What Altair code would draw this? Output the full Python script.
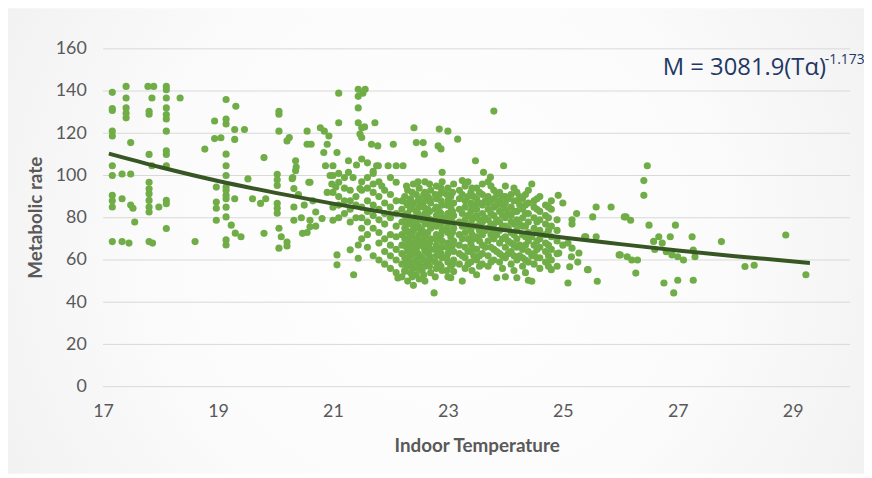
import altair as alt
import pandas as pd

# ---------------- data ----------------
cool_points = [
    (17.16, 139.4), (17.16, 131.7), (17.16, 130.8), (17.16, 121.0), (17.16, 118.7), (17.16, 104.6),
    (17.16, 100.0), (17.16, 90.6), (17.16, 88.0), (17.16, 85.1), (17.16, 68.7),
    (17.40, 142.2), (17.40, 136.7), (17.40, 132.0), (17.40, 129.5), (17.40, 127.3), (17.48, 115.6),
    (17.33, 100.7), (17.48, 100.7), (17.33, 89.0), (17.48, 86.0), (17.52, 84.5), (17.55, 78.0),
    (17.33, 68.7), (17.45, 68.0),
    (17.78, 142.2), (17.88, 142.2), (17.85, 136.7), (17.80, 130.4), (17.80, 129.0), (17.80, 110.0),
    (17.85, 104.6), (17.80, 96.8), (17.80, 93.7), (17.80, 91.4), (17.80, 88.2), (17.80, 85.1),
    (17.80, 82.7), (17.80, 68.7), (17.86, 68.0), (17.97, 85.1),
    (18.10, 142.2), (18.10, 140.6), (18.10, 136.7), (18.10, 132.0), (18.10, 128.9), (18.10, 126.8),
    (18.10, 121.0), (18.10, 111.7), (18.10, 110.0), (18.10, 104.6), (18.10, 88.2), (18.10, 86.6),
    (18.10, 74.9), (18.34, 136.7), (18.60, 68.7),
    (18.77, 112.5), (18.94, 117.5), (19.05, 117.9), (18.94, 125.8), (18.97, 94.5), (18.97, 87.4),
    (18.97, 84.5), (18.97, 78.8),
    (19.14, 136.0), (19.14, 126.7), (19.14, 124.4), (19.14, 110.1), (19.14, 104.6), (19.14, 100.0),
    (19.14, 94.5), (19.14, 93.0), (19.14, 90.6), (19.14, 89.0), (19.14, 85.0), (19.14, 80.4),
    (19.14, 69.5), (19.14, 67.1),
    (19.31, 132.8), (19.29, 121.8), (19.46, 121.8), (19.29, 117.1), (19.23, 76.5), (19.30, 72.7),
    (19.40, 71.0), (19.29, 89.0), (19.52, 98.4), (19.60, 89.0), (19.74, 86.8), (19.80, 108.5),
    (19.80, 72.6),
]

mid_points = [
    (19.83, 89.0), (20.06, 130.4), (20.06, 129.0), (20.06, 121.0), (20.03, 100.6), (20.03, 98.0),
    (20.03, 95.3), (20.03, 86.8), (20.03, 84.5), (20.03, 82.1), (20.06, 75.0), (20.10, 71.0),
    (20.20, 68.5), (20.06, 65.6), (20.20, 66.6), (20.20, 116.4), (20.24, 118.0), (20.35, 107.0),
    (20.35, 102.3), (20.29, 98.5), (20.32, 93.8), (20.32, 85.1), (20.32, 78.8), (20.47, 72.6),
    (20.55, 121.0), (20.55, 114.8), (20.62, 114.8), (20.58, 96.8), (20.60, 78.8), (20.60, 75.7),
    (20.70, 82.7), (20.78, 122.6), (20.85, 121.0), (20.93, 118.7), (20.90, 114.8), (20.84, 110.9),
    (20.81, 79.6), (20.87, 104.6), (20.95, 100.0), (20.90, 92.0), (20.40, 91.0), (20.50, 86.0),
    (20.45, 80.0), (20.65, 88.0), (20.70, 76.0), (20.55, 73.0), (20.30, 99.0), (20.60, 96.8),
    (20.36, 104.0),
    (21.07, 110.9), (21.10, 139.0), (21.10, 125.0), (21.07, 62.4), (21.07, 57.7), (21.27, 107.0),
    (21.27, 101.5), (21.36, 53.0), (21.44, 140.8), (21.44, 137.5), (21.56, 140.8), (21.52, 139.0),
    (21.44, 132.0), (21.44, 125.0), (21.55, 123.0), (21.50, 122.6), (21.47, 119.6), (21.50, 118.0),
    (21.73, 125.0), (21.50, 107.8), (21.41, 105.0), (21.60, 106.0), (21.47, 93.8), (21.44, 67.1),
    (21.44, 60.8), (21.67, 114.8), (21.78, 114.0), (21.76, 104.6), (21.79, 104.6), (22.05, 114.8),
    (21.96, 104.6), (22.10, 104.6), (22.22, 104.6), (22.13, 51.5), (22.25, 54.6), (22.10, 96.8),
    (20.98, 96.0), (21.05, 94.5), (21.35, 99.0), (21.70, 102.0), (21.85, 95.0),
]

upper_points = [
    (22.41, 122.6), (22.45, 115.6), (22.57, 115.6), (22.59, 110.1), (22.85, 122.0), (23.00, 121.0),
    (22.83, 114.0), (22.88, 112.6), (23.17, 117.2), (23.48, 107.0), (23.97, 104.6), (23.80, 130.5),
    (23.62, 101.5), (23.74, 99.2), (22.90, 101.5), (23.25, 97.6),
]

warm_points = [
    (24.92, 90.6), (25.00, 87.0), (25.24, 82.0), (25.16, 79.0), (25.16, 77.0), (25.58, 85.1),
    (25.84, 85.1), (25.52, 80.4), (26.07, 80.4), (25.38, 71.0), (25.58, 71.0), (25.00, 67.0),
    (25.16, 65.6), (25.28, 63.3), (24.93, 63.3), (25.98, 62.4), (26.12, 61.5), (25.44, 55.4),
    (25.60, 49.9), (25.09, 49.1), (24.80, 55.4), (25.09, 68.0), (25.15, 61.5), (25.12, 56.8),
    (25.26, 59.0), (25.43, 55.4), (25.40, 71.0),
    (26.47, 104.6), (26.41, 97.6), (26.41, 90.6), (26.10, 80.4), (26.18, 78.8), (26.50, 76.5),
    (26.96, 76.5), (26.67, 71.0), (26.87, 71.0), (27.25, 71.0), (26.58, 68.8), (26.73, 68.0),
    (27.76, 68.7), (28.88, 71.8), (26.00, 62.4), (26.20, 60.0), (26.30, 60.0), (26.27, 53.8),
    (26.80, 63.9), (26.90, 62.4), (27.00, 61.5), (27.10, 60.0), (27.27, 64.7), (27.30, 61.5),
    (26.76, 49.1), (27.00, 50.4), (27.27, 50.4), (26.93, 44.4), (28.17, 56.9), (28.33, 57.5),
    (29.23, 53.0), (26.60, 65.0),
]

# dense part of the cloud: temperature -> metabolic rates read in that column
dense_columns = {
    21.0: [78.8, 85, 92, 100, 104.6], 21.1: [80, 86, 90, 96.8, 101], 21.2: [82, 88, 94, 99],
    21.3: [64.8, 78, 84, 88, 93], 21.4: [80, 86, 90],
    21.5: [70, 75, 80, 85, 93, 97], 21.6: [66, 72, 78, 83, 88, 94, 99],
    21.7: [62, 75, 81, 86, 92, 96, 101], 21.8: [60, 68, 73, 79, 84, 90, 97],
    21.9: [58, 64, 70, 77, 82, 87, 93], 22.0: [56, 62, 67, 72, 80, 85, 91, 99],
    22.1: [54, 60, 65, 71, 76, 82, 88],
    22.2: [52, 58, 63, 67, 72, 78, 84, 88], 22.25: [55, 61, 70, 75, 81, 90],
    22.3: [50, 57, 60, 64, 69, 73, 77, 82, 86, 93], 22.35: [54, 62, 66, 71, 79, 84, 89],
    22.4: [48, 56, 59, 63, 68, 74, 76, 80, 87, 96], 22.45: [53, 60, 65, 70, 78, 83, 91],
    22.5: [51, 58, 62, 67, 72, 75, 81, 85, 89, 94], 22.55: [55, 61, 69, 74, 79, 86],
    22.6: [50, 57, 64, 68, 71, 77, 82, 88, 92, 97], 22.65: [59, 63, 66, 73, 80, 84, 90],
    22.7: [54, 60, 65, 70, 75, 79, 87, 93], 22.76: [44.4],
    22.8: [56, 62, 67, 72, 76, 81, 85, 89, 95], 22.85: [58, 64, 70, 78, 83, 91],
    22.9: [55, 61, 66, 69, 74, 80, 86, 92, 97], 23.0: [52, 59, 63, 68, 73, 77, 82, 88, 94],
    23.05: [51.6, 57, 65, 71, 79, 85, 90], 23.1: [54.5, 60, 64, 69, 75, 81, 87, 96],
    23.2: [58, 63, 67, 72, 78, 84, 89, 93], 23.25: [50, 62, 70, 76, 82, 91],
    23.3: [56, 61, 66, 73, 79, 85, 88, 95], 23.4: [59, 64, 68, 74, 77, 83, 87, 92],
    23.45: [62, 70, 80, 86, 90], 23.5: [53, 60, 65, 71, 76, 81, 84, 89, 94],
    23.6: [58, 63, 67, 72, 78, 82, 86, 91, 96], 23.65: [66, 74, 80, 88],
    23.7: [57, 62, 69, 75, 79, 84, 87, 90, 97], 23.8: [60, 65, 70, 73, 77, 81, 85, 89, 93],
    23.85: [51.6, 64, 72, 79, 86, 91], 23.9: [59, 63, 68, 74, 78, 83, 88, 92],
    24.0: [52, 61, 66, 71, 76, 80, 84, 87, 90, 95], 24.05: [63, 69, 75, 82, 89],
    24.1: [58, 64, 68, 73, 78, 81, 85, 91], 24.2: [51.6, 60, 66, 70, 74, 79, 83, 88, 92],
    24.25: [62, 67, 77, 86, 90], 24.3: [57, 61, 65, 72, 76, 80, 84, 89],
    24.4: [50.4, 59, 64, 69, 73, 78, 82, 87, 93], 24.46: [49.9, 62, 71, 96],
    24.5: [58, 63, 67, 75, 80, 85, 88], 24.6: [56, 61, 66, 70, 74, 79, 83, 90],
    24.7: [59, 64, 68, 72, 77, 81, 86], 24.8: [60, 65, 71, 76, 84, 88],
    24.9: [57, 63, 69, 74, 79],
}

# further points of the solid core of the cloud
dense_fill = {
    22.28: [59, 66, 74, 80, 87, 95], 22.38: [52, 58, 65, 72, 77, 85, 92],
    22.48: [56, 63, 69, 76, 82, 88, 97], 22.58: [53, 60, 66, 73, 79, 85, 91],
    22.68: [57, 62, 68, 77, 83, 89, 96], 22.78: [52, 59, 65, 70, 78, 84, 91],
    22.88: [57, 63, 72, 77, 82, 88, 94], 22.98: [55, 61, 66, 75, 80, 86, 91],
    23.08: [58, 67, 73, 78, 83, 92], 23.35: [58, 64, 70, 76, 81, 90, 97],
    23.42: [55, 66, 72, 79, 85, 94], 23.55: [57, 62, 69, 74, 79, 87, 92],
    23.75: [59, 66, 72, 77, 82, 88, 95], 23.95: [56, 62, 70, 76, 81, 86, 90],
    24.15: [55, 62, 67, 72, 77, 83, 88, 94], 24.35: [54, 60, 67, 71, 76, 82, 86, 91],
    24.55: [61, 65, 69, 73, 78, 84, 89], 24.75: [57, 62, 67, 74, 80, 85],
}

# power-law trend line
trend_temp = [17.1, 18, 19, 20, 21, 22, 23, 24, 25, 26, 27, 28, 29.3]
trend_rate = [110.4, 103.9, 97.4, 91.8, 86.7, 82.1, 77.9, 74.1, 70.6, 67.5, 64.5, 61.8, 58.6]

x_ticks = [17, 19, 21, 23, 25, 27, 29]
y_ticks = [0, 20, 40, 60, 80, 100, 120, 140, 160]

equation_main = "M = 3081.9(Tα)"
equation_exp = "-1.173"

# ---------------- build tables ----------------
rows = []
for t, m in cool_points + mid_points + upper_points + warm_points:
    rows.append({"temp": t, "rate": m})
for cols in (dense_columns, dense_fill):
    for t, ms in cols.items():
        for m in ms:
            rows.append({"temp": t, "rate": m})
scatter_df = pd.DataFrame(rows)
trend_df = pd.DataFrame({"temp": trend_temp, "rate": trend_rate})
grid_df = pd.DataFrame({"rate": y_ticks})

FONT = "Lato"
GREY = "#595959"

x_scale = alt.Scale(domain=[17, 30], nice=False, zero=False)
y_scale = alt.Scale(domain=[0, 160], nice=False)

background = alt.Chart(alt.Data(values=[{"k": 1}])).mark_rect(
    color={
        "gradient": "radial",
        "stops": [
            {"offset": 0, "color": "#ffffff"},
            {"offset": 0.45, "color": "#fbfbfb"},
            {"offset": 1, "color": "#ebebeb"},
        ],
        "x1": 0.5, "y1": 0.5, "r1": 0,
        "x2": 0.5, "y2": 0.5, "r2": 0.74,
    }
).encode(
    x=alt.value(-98), x2=alt.value(770), y=alt.value(-41), y2=alt.value(429)
)

grid = alt.Chart(grid_df).mark_rule(color="#d9d9d9", strokeWidth=1).encode(
    y=alt.Y("rate:Q", scale=y_scale), x=alt.value(0), x2=alt.value(754)
)

points = alt.Chart(scatter_df).mark_circle(size=52, opacity=1, color="#70AD47").encode(
    x=alt.X(
        "temp:Q", scale=x_scale,
        axis=alt.Axis(
            values=x_ticks, format="d", labelFlush=False,
            grid=False, ticks=False, domain=False, zindex=1,
            labelFont=FONT, labelFontSize=18, labelColor=GREY, labelPadding=16,
            title="Indoor Temperature", titleFont=FONT, titleFontSize=19,
            titleFontWeight="bold", titleColor=GREY,
            titleX=377, titleY=59, titleBaseline="middle",
        ),
    ),
    y=alt.Y(
        "rate:Q", scale=y_scale,
        axis=alt.Axis(
            values=y_ticks, format="d", labelFlush=False,
            grid=False, ticks=False, domain=False, zindex=1,
            labelFont=FONT, labelFontSize=18, labelColor=GREY, labelPadding=17,
            title="Metabolic rate", titleFont=FONT, titleFontSize=19,
            titleFontWeight="bold", titleColor=GREY,
            titleX=-68, titleY=170, titleAngle=270, titleAlign="center",
            titleBaseline="middle",
        ),
    ),
)

trend = alt.Chart(trend_df).mark_line(
    color="#375623", strokeWidth=4, interpolate="monotone"
).encode(x=alt.X("temp:Q", scale=x_scale), y=alt.Y("rate:Q", scale=y_scale))

eq_df = pd.DataFrame({"temp": [26.74], "rate": [147.8], "label": [equation_main]})
exp_df = pd.DataFrame({"temp": [29.56], "rate": [152.6], "label": [equation_exp]})

eq_text = alt.Chart(eq_df).mark_text(
    align="left", baseline="alphabetic", font="Open Sans", fontSize=24, color="#1F3864"
).encode(x=alt.X("temp:Q", scale=x_scale), y=alt.Y("rate:Q", scale=y_scale), text="label:N")

exp_text = alt.Chart(exp_df).mark_text(
    align="left", baseline="alphabetic", font="Open Sans", fontSize=14, color="#1F3864"
).encode(x=alt.X("temp:Q", scale=x_scale), y=alt.Y("rate:Q", scale=y_scale), text="label:N")

chart = alt.layer(background, grid, points, trend, eq_text, exp_text).properties(
    width=754,
    height=341,
    autosize=alt.AutoSizeParams(type="none"),
    padding={"left": 96, "top": 39, "right": 14, "bottom": 90},
    background="white",
).configure_view(stroke=None)

chart.save("out.html", embed_options={"renderer": "svg", "actions": False})
